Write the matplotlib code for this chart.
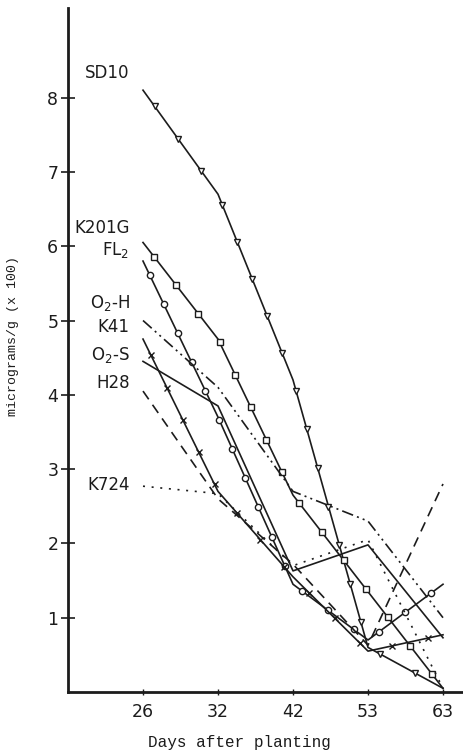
import numpy as np
import matplotlib.pyplot as plt

# days after planting (evenly spaced on the chart)
days = [26, 32, 42, 53, 63]

# micrograms/g (x 100)
sd10 = [8.1, 6.7, 4.2, 0.6, 0.05]
k201g = [6.05, 4.75, 2.65, 1.35, 0.05]
fl2 = [5.8, 3.7, 1.45, 0.7, 1.45]
o2h = [5.0, 4.1, 2.7, 2.3, 1.0]
k41 = [4.75, 2.7, 1.55, 0.55, 0.77]
o2s = [4.45, 3.85, 1.63, 1.98, 0.73]
h28 = [4.05, 2.6, 1.72, 0.63, 2.8]
k724 = [2.77, 2.67, 1.7, 2.05, 0.05]

yticks = [1, 2, 3, 4, 5, 6, 7, 8]


def along_line(ax, x, y, step):
    # evenly spaced spots along the drawn polyline (screen distance), for
    # the identifying symbols the original draws along each curve
    pts = ax.transData.transform(np.column_stack([x, y]))
    seg = np.hypot(*np.diff(pts, axis=0).T)
    s = np.concatenate([[0], np.cumsum(seg)])
    t = np.arange(step * 0.5, s[-1], step)
    px = np.interp(t, s, pts[:, 0])
    py = np.interp(t, s, pts[:, 1])
    return ax.transData.inverted().transform(np.column_stack([px, py])).T


def main():
    fig = plt.figure(figsize=(4.63, 7.56), dpi=100)
    ax = fig.add_axes([68 / 463, 64 / 756, 395 / 463, 684 / 756])
    ax.set_xlim(0, 395 / 75)
    ax.set_ylim(0, 684 / 74.3)

    x = np.arange(1, len(days) + 1)
    ink = '#1c1c1c'
    lw = 1.2

    # (values, label, label y offset, line style, symbol, symbol spacing px)
    series = [
        (sd10, 'SD10', 0.23, dict(), ('v', 4.5), 40),
        (k201g, 'K201G', 0.2, dict(), ('s', 4), 36),
        (fl2, 'FL$_2$', 0.15, dict(), ('o', 4.5), 32),
        (o2h, 'O$_2$-H', 0.24, dict(dashes=(7, 2.5, 1.2, 2.5, 1.2, 2.5)), None, 0),
        (k41, 'K41', 0.16, dict(), ('x', 4), 36),
        (o2s, 'O$_2$-S', 0.09, dict(), None, 0),
        (h28, 'H28', 0.11, dict(dashes=(6, 4)), None, 0),
        (k724, 'K724', 0.02, dict(dashes=(1.2, 4)), None, 0),
    ]

    for vals, name, dy, kw, sym, step in series:
        ax.plot(x, vals, color=ink, lw=lw, **kw)
        if sym:
            mx, my = along_line(ax, x, vals, step)
            ax.plot(mx, my, ls='none', marker=sym[0], markersize=sym[1],
                    markerfacecolor='white', markeredgecolor=ink,
                    markeredgewidth=1.0)
        ax.text(0.82, vals[0] + dy, name, ha='right', va='center',
                fontsize=12, color=ink)

    for side in ['top', 'right']:
        ax.spines[side].set_visible(False)
    for side in ['left', 'bottom']:
        ax.spines[side].set_linewidth(2)
        ax.spines[side].set_color(ink)

    ax.set_xticks(x, labels=[str(d) for d in days])
    ax.set_yticks(yticks, labels=[str(v) for v in yticks])
    ax.tick_params(axis='x', direction='inout', length=4, width=1,
                   pad=6, labelsize=12.5, colors=ink)
    ax.tick_params(axis='y', direction='inout', length=10, width=1.2,
                   pad=2, labelsize=12.5, colors=ink)

    ax.set_xlabel('Days after planting', family='Liberation Mono',
                  fontsize=11.5, color=ink)
    ax.xaxis.set_label_coords(0.435, -0.063)
    ax.set_ylabel('micrograms/g (x 100)', family='Liberation Mono',
                  fontsize=9.5, color=ink)
    ax.yaxis.set_label_coords(-0.125, 0.52)

    fig.savefig('out.png', dpi=100, facecolor='white')


if __name__ == "__main__":
    main()
